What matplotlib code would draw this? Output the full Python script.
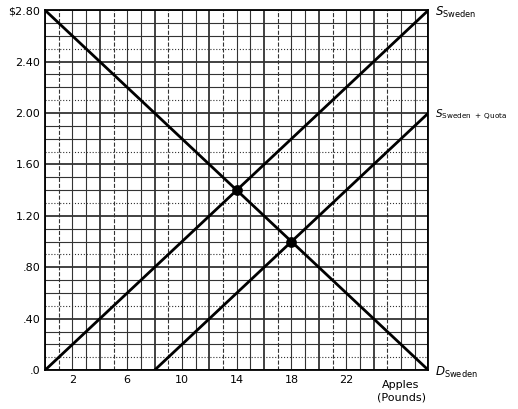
import matplotlib
matplotlib.use("Agg")
import matplotlib.pyplot as plt
import numpy as np

xticks = [2, 6, 10, 14, 18, 22]
yticks = [0, 0.4, 0.8, 1.2, 1.6, 2.0, 2.4, 2.8]
ylabels = [".0", ".40", ".80", "1.20", "1.60", "2.00", "2.40", "$2.80"]
supply_x = [0, 28]; supply_y = [0, 2.8]
quota_x = [8, 28]; quota_y = [0, 2.0]
demand_x = [0, 28]; demand_y = [2.8, 0]
eq_x = [14, 18]; eq_y = [1.4, 1.0]

fig = plt.figure(figsize=(5.18, 4.09), dpi=100)
ax = fig.add_axes([0.087, 0.095, 0.74, 0.88])
for i in range(29):
    ls = '--' if i % 4 == 1 else '-'
    lw = 1.3 if i % 4 == 0 else 0.8
    ax.axvline(i, color='#333', lw=lw, ls=ls, zorder=1)
for j in range(29):
    ls = ':' if j % 4 == 1 else '-'
    lw = 1.3 if j % 4 == 0 else 0.8
    ax.axhline(j * 0.1, color='#333', lw=lw, ls=ls, zorder=1)
ax.plot(supply_x, supply_y, color='black', lw=2, zorder=3)
ax.plot(quota_x, quota_y, color='black', lw=2, zorder=3)
ax.plot(demand_x, demand_y, color='black', lw=2, zorder=3)
ax.scatter(eq_x, eq_y, s=45, color='black', zorder=4)
ax.set_xlim(0, 28); ax.set_ylim(0, 2.8)
ax.set_xticks(xticks); ax.set_yticks(yticks); ax.set_yticklabels(ylabels)
ax.tick_params(length=0, labelsize=8)
for s in ax.spines.values():
    s.set_linewidth(1.3)
ax.text(26, -0.08, "Apples\n(Pounds)", ha='center', va='top', fontsize=8)
ax.text(28.5, 2.78, "$S_{\\mathrm{Sweden}}$", va='center', fontsize=8.5)
ax.text(28.5, 1.98, "$S_{\\mathrm{Sweden\\ +\\ Quota}}$", va='center', fontsize=7.5)
ax.text(28.5, -0.02, "$D_{\\mathrm{Sweden}}$", va='center', fontsize=8.5)
fig.savefig("out.png", dpi=100)
